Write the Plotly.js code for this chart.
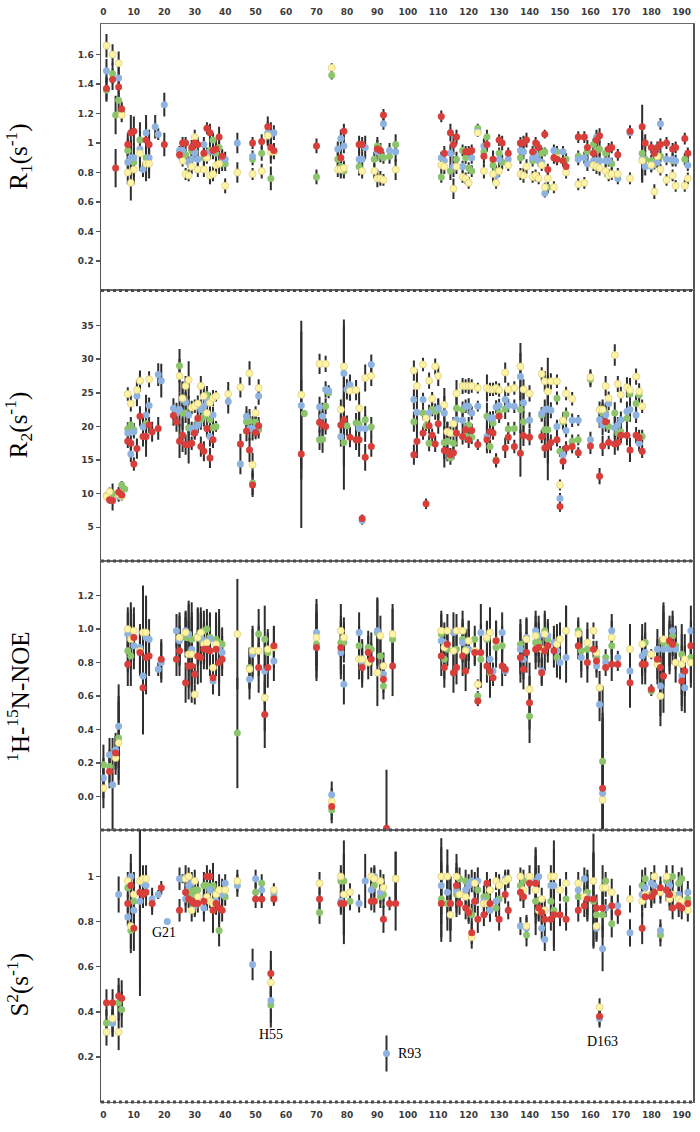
<!DOCTYPE html>
<html>
<head>
<meta charset="utf-8">
<script src="https://cdn.plot.ly/plotly-3.0.1.min.js"></script>
<style>
  body { margin: 0; background: #fff; }
  #plot { width: 700px; height: 1132px; }
</style>
</head>
<body>
<div id="plot"></div>
<script>
const _ = null;

// ---- R1 panel ----
const r1Res = [1,3,4,5,6,8,9,10,12,13,
  14,15,17,18,20,25,26,27,28,29,
  30,31,33,34,35,36,37,38,39,40,
  44,49,52,54,55,56,70,75,77,78,
  79,84,85,86,89,90,91,92,94,96,
  111,112,114,115,116,118,119,120,121,123,
  125,126,128,129,130,131,133,137,138,139,
  141,142,143,144,145,146,148,149,151,152,
  156,158,159,161,162,163,165,166,167,169,
  173,177,178,180,181,182,183,185,187,188,
  191,192];
const r1Red = [1.37,1.43,.83,1.38,1.23,.99,1.07,1.08,_,_,
  1.02,.99,_,_,.99,.92,1.00,1.00,_,.97,
  1.00,.99,.93,1.10,1.07,.95,.96,1.04,.91,_,
  _,1.00,1.01,1.11,.97,.95,.98,_,_,.90,
  1.08,.99,.99,_,_,.96,.95,1.19,_,_,
  1.18,.93,1.07,.99,1.04,_,.94,.94,.95,_,
  .91,.99,.89,_,1.02,1.00,.93,1.00,1.00,1.02,
  .94,1.00,.97,_,1.06,.82,.90,.89,.88,.84,
  1.04,1.04,.97,.93,1.02,1.05,_,.96,.97,.92,
  1.08,1.11,1.00,.97,.93,.97,.99,1.00,.96,.97,
  1.03,.93];
const r1Yellow = [1.66,1.60,_,1.54,1.19,.80,.73,.82,.93,_,
  .86,.86,_,_,_,_,.88,.79,.78,.84,
  1.04,.82,.82,.90,.78,.79,.85,.86,_,.71,
  .80,.79,.81,1.05,.94,.94,_,1.51,.82,.82,
  .83,_,.81,_,.81,.76,.76,.75,_,.82,
  .85,.84,_,.69,.84,.77,.76,.73,_,1.07,
  .81,_,.79,.73,.81,_,.85,.79,.78,.84,
  .77,.78,.76,.85,.70,.76,.70,.90,_,.80,
  .72,.73,_,.85,.84,.83,.81,.78,.79,.79,
  .76,.88,_,.85,.67,.91,.82,.75,.78,.71,
  .71,.76];
const r1Green = [1.36,1.47,1.19,1.29,1.21,.95,_,.87,1.02,_,
  .90,_,_,_,_,_,_,.92,_,.95,
  .94,_,.90,_,.95,1.02,.93,.97,.86,.86,
  _,.89,.93,1.06,.76,_,.77,1.46,.89,.84,
  .81,.84,_,_,.89,.98,.92,.90,.91,.99,
  .77,_,.81,_,.89,.95,.90,.83,.81,1.10,
  .94,1.04,.85,.81,.93,.87,_,.90,_,_,
  .88,_,_,.93,.94,.70,_,.94,_,.89,
  .91,_,.94,.99,.95,.96,.93,_,.86,_,
  _,.93,.89,.88,.87,_,.91,_,.88,_,
  .89,_];
const r1Blue = [1.49,_,_,1.44,_,.87,.90,.90,.96,.82,
  1.07,.90,1.11,1.06,1.26,.95,.95,_,.87,.89,
  .93,.89,.99,.93,_,.94,_,_,.90,.89,
  1.00,.91,_,1.07,1.06,1.07,_,_,.96,1.03,
  .98,.89,.89,.97,_,.94,_,1.13,.95,.94,
  .90,.88,.93,.84,_,.84,_,_,.90,1.08,
  .98,_,_,.78,.89,_,.89,.95,.94,_,
  .90,.91,.88,.87,.66,_,.95,_,.94,_,
  .89,.90,.86,.88,1.04,.88,.88,.88,_,.76,
  1.07,.89,.84,.84,_,.87,1.13,.89,.89,.88,
  _,.85];
const r1Err = [.08,.07,.13,.08,.05,.08,.12,.10,.12,.05,
  .12,.10,.08,.04,.08,.03,.04,.04,.04,.05,
  .05,.05,.05,.04,.06,.05,.06,.07,.05,.05,
  .07,.04,.05,.07,.08,.05,.05,.03,.05,.06,
  .05,.06,.05,.08,.05,.06,.05,.04,.05,.07,
  .04,.05,.06,.07,.05,.04,.04,.04,.04,.03,
  .05,.05,.06,.04,.04,.05,.04,.04,.05,.05,
  .04,.04,.04,.04,.03,.04,.04,.04,.04,.04,
  .04,.04,.05,.04,.05,.05,.04,.04,.04,.04,
  .04,.15,.06,.04,.05,.04,.04,.04,.04,.04,
  .04,.04];

// ---- R2 panel ----
const r2Res = [1,2,3,5,6,7,8,9,10,11,
  12,13,14,15,16,18,19,23,24,25,
  26,27,28,29,30,31,32,33,34,35,
  36,37,41,45,47,48,49,50,51,65,
  66,71,72,73,74,78,79,80,81,83,
  84,85,86,88,102,103,105,106,107,108,
  109,110,112,113,114,115,116,118,119,120,
  121,123,126,127,128,129,130,132,133,135,
  137,138,140,144,145,146,147,149,150,151,
  152,154,156,160,163,164,165,166,168,169,
  170,172,173,175,176,177];
const r2Red = [_,9.1,9.0,10.2,9.8,_,17.8,17.5,14.4,16.7,
  21.5,18.5,18.5,20.2,19.2,19.7,_,21.6,20.7,17.8,
  18.7,17.3,17.3,17.5,19.0,21.2,17.0,16.3,19.7,15.3,
  18.0,_,_,17.4,19.3,16.5,11.3,19.1,20.1,15.9,
  _,20.6,20.2,20.0,_,20.2,21.0,_,18.4,18.0,
  18.0,6.3,15.4,17.0,15.8,17.8,19.0,8.5,20.1,18.7,
  17.4,20.4,16.4,16.3,15.8,16.1,19.0,18.5,19.5,18.0,
  19.4,17.3,18.0,19.2,19.0,14.9,21.5,16.8,18.4,17.0,
  16.0,18.6,18.4,18.5,16.8,17.0,17.6,18.0,8.1,14.8,
  16.8,17.0,16.1,17.1,12.6,17.1,20.7,17.6,17.4,17.6,
  18.7,18.7,16.5,18.7,18.3,16.3];
const r2Yellow = [9.6,10.3,_,9.9,9.6,_,24.8,23.4,_,25.4,
  26.8,_,_,27.0,_,_,_,_,_,27.5,
  24.2,26.0,26.9,22.8,23.0,23.4,26.0,24.5,22.0,23.5,
  24.2,24.5,24.8,25.8,_,27.9,14.3,22.0,25.7,24.7,
  _,29.3,_,29.3,_,22.5,28.9,_,25.3,25.4,
  22.7,_,27.2,27.5,28.3,26.0,29.2,21.2,26.8,24.1,
  28.9,27.5,23.2,19.2,19.0,20.4,24.9,26.0,26.0,26.0,
  26.0,25.7,25.7,25.5,25.5,25.7,25.4,28.0,25.5,25.7,
  28.9,25.5,24.9,27.8,26.7,25.2,26.7,26.7,11.3,20.9,
  24.9,24.1,_,27.3,22.5,22.5,26.0,24.2,30.6,26.3,
  24.7,25.8,25.4,27.4,25.2,23.0];
const r2Green = [9.7,9.6,10.0,_,11.3,10.7,19.6,20.2,19.5,_,
  _,_,20.4,_,_,_,_,_,_,29.0,
  22.0,22.0,19.8,_,19.2,20.5,21.0,21.5,24.7,21.0,
  19.8,20.0,_,_,20.7,20.8,11.6,20.6,19.5,_,
  21.9,18.0,18.1,23.0,25.0,_,17.6,20.1,_,20.5,
  20.3,_,21.0,19.9,20.7,_,22.0,20.1,17.5,22.5,
  22.2,22.5,17.6,17.8,15.3,17.5,22.7,22.5,18.6,20.2,
  18.4,_,21.5,17.0,20.5,15.0,22.0,22.6,19.6,19.7,
  22.5,20.7,_,21.7,19.5,19.5,_,24.2,16.3,20.7,
  21.8,17.8,18.0,27.0,_,22.0,22.0,20.0,22.0,19.0,
  19.2,21.2,24.8,23.4,24.7,18.5];
const r2Blue = [_,_,_,9.6,_,_,19.0,15.9,19.2,24.5,
  26.7,19.9,21.7,23.1,_,27.7,26.8,22.7,22.0,22.5,
  24.0,23.6,21.7,19.7,19.7,20.2,22.5,23.0,23.8,18.5,
  21.7,_,23.7,14.4,21.5,19.7,19.7,19.5,24.5,23.1,
  _,22.9,21.5,25.5,25.3,18.5,27.9,25.5,26.2,_,
  19.7,6.0,19.7,29.2,24.0,22.1,24.0,_,22.0,_,
  _,22.7,22.0,19.2,_,_,21.0,20.9,23.0,23.0,
  22.0,23.0,18.5,21.2,21.3,22.9,23.1,24.0,23.1,23.0,
  27.4,23.5,20.9,21.9,22.5,22.6,22.4,20.0,9.3,15.8,
  19.4,20.9,20.9,18.0,21.0,20.2,21.7,23.4,19.8,20.2,
  21.0,22.2,22.5,21.7,17.5,_];
const r2Err = [.5,.6,1.5,.8,.6,.4,1.0,1.2,1.0,1.5,
  1.5,1.5,3.0,1.2,1.5,1.7,2.5,1.5,1.5,2.5,
  2.5,1.5,2.8,1.0,1.0,1.2,1.5,1.5,1.3,1.5,
  1.2,.8,1.8,1.5,1.5,1.8,1.8,1.0,1.3,11,
  .5,1.5,2.0,1.2,.8,1.5,7.0,1.5,1.5,1.5,
  2.5,.6,2.0,1.5,1.5,2.5,1.0,.8,1.2,1.0,
  1.2,1.5,2.5,1.5,1.0,1.0,2.0,1.2,1.0,1.2,
  1.0,.8,2.0,1.0,1.0,1.0,1.0,1.5,1.0,1.0,
  3.5,1.5,1.2,1.0,1.5,5.0,1.2,1.0,.8,1.2,
  1.0,1.0,.8,1.2,1.2,1.5,1.5,1.0,1.6,1.2,
  1.2,1.5,1.8,1.2,1.2,1.0];

// ---- 1H-15N NOE panel ----
const noeRes = [0,2,3,4,5,8,9,10,12,13,
  14,15,18,19,24,25,27,28,29,30,
  31,32,33,34,35,36,37,38,39,44,
  48,49,51,53,54,56,70,75,78,79,
  84,85,87,88,90,91,92,93,95,111,
  112,113,115,116,118,119,120,122,123,124,
  126,127,128,129,131,132,137,138,139,140,
  142,143,144,145,146,148,149,150,152,156,
  157,159,161,162,163,164,165,167,169,173,
  177,178,180,182,183,184,186,187,188,190,
  191,193];
const noeRed = [_,.15,_,.26,_,.79,_,.95,.86,.65,
  .83,.84,_,.82,.82,.87,.68,.78,.78,.73,
  .84,.83,.88,.88,.87,.71,.88,.80,.82,_,
  _,_,.77,.49,.77,.90,.89,-.06,.89,_,
  _,.77,.86,.82,_,_,.70,-.19,.78,.84,
  .77,.91,.74,.77,.84,.75,_,.86,.57,.86,
  .78,.75,.71,.93,.78,.76,.83,.76,.86,.56,
  .88,.89,.74,.87,.90,.87,_,_,_,.90,
  _,.80,.88,.81,_,.05,.77,.79,.79,.68,
  .79,.79,.64,.82,.77,.72,.93,.91,_,.69,
  .75,.90];
const noeYellow = [.05,_,_,.23,.32,1.00,.94,.99,.87,.98,
  .98,_,_,_,_,.95,.98,.85,.85,.61,
  .95,.98,.91,.92,_,.77,.91,_,_,.97,
  .76,.87,.87,.59,.88,.89,.95,-.03,.99,.95,
  .82,.82,.80,_,.74,.96,.78,_,.97,.99,
  .89,.99,.87,.99,.99,.87,.93,.87,.67,_,
  .95,.98,_,.93,_,_,_,_,.94,.64,
  .96,_,.88,.97,_,_,.91,.94,.99,.97,
  _,.92,.99,.86,.65,-.02,_,.95,_,.88,
  .91,_,.85,.79,.60,.94,_,_,.80,.79,
  .82,.80];
const noeGreen = [.19,.18,_,_,.35,.87,.84,_,_,_,
  _,_,_,_,_,_,.95,.95,.94,_,
  .96,.94,.99,1.00,.95,_,.94,.92,.91,.38,
  .77,_,.97,.94,.86,_,.91,-.08,.92,.92,
  .90,_,.89,.88,.98,.84,.66,_,.94,.97,
  .82,.88,_,.88,.94,.88,.93,.94,.60,.82,
  .94,.74,_,.89,.90,_,.91,_,_,.48,
  .92,.92,_,.99,.94,_,.83,_,.99,.99,
  .87,.88,_,.83,_,.21,.83,.90,_,_,
  _,.92,.63,_,_,.92,.90,.96,.90,.85,
  _,.83];
const noeBlue = [.11,.25,.07,.28,.42,.97,.98,.90,.89,.72,
  .95,.94,.76,.80,.99,.93,.99,.97,.88,_,
  _,.95,.93,.88,.94,.69,_,.88,.86,_,
  .70,.85,_,.75,_,.81,.98,.01,.86,.67,
  .98,.80,_,_,.99,_,.73,_,_,.93,
  .92,_,.98,_,.92,_,.88,_,_,.98,
  _,.82,.75,_,.98,.75,.88,.82,.95,_,
  .99,.96,.75,_,.96,.92,.87,.80,.83,_,
  .83,_,_,.78,.55,.02,.80,.99,.83,.75,
  .84,.86,_,.88,.66,.88,.88,.99,.88,.72,
  .65,.99];
const noeErr = [.12,.10,.28,.10,.25,.13,.18,.14,.14,.28,
  .22,.12,.04,.12,.10,.15,.12,.20,.22,.06,
  .17,.15,.12,.12,.15,.08,.16,.20,.10,.33,
  .12,.15,.15,.20,.12,.12,.20,.08,.16,.12,
  .12,.12,.10,.10,.20,.12,.08,.35,.18,.12,
  .12,.10,.12,.10,.12,.12,.12,.08,.03,.17,
  .10,.15,.05,.12,.12,.03,.15,.12,.12,.16,
  .12,.12,.08,.12,.10,.10,.12,.10,.15,.08,
  .12,.12,.05,.07,.10,.45,.05,.10,.04,.15,
  .12,.12,.03,.12,.18,.22,.15,.12,.12,.18,
  .15,.15];

// ---- S2 panel ----
const s2Res = [1,3,5,6,8,9,10,12,13,14,
  16,18,19,21,25,26,27,28,29,30,
  31,33,34,35,36,37,38,39,40,44,
  49,50,52,55,56,71,78,79,81,84,
  86,88,89,91,92,93,94,96,111,113,
  114,116,117,119,120,121,122,123,125,126,
  127,129,130,132,133,137,138,139,140,142,
  143,144,145,147,148,150,152,156,158,159,
  161,162,163,164,165,167,169,173,177,178,
  180,181,183,185,186,187,189,190,192];
const s2Red = [.44,.44,.47,.46,.88,.96,.77,.93,.92,.93,
  .88,_,.95,_,.85,_,.93,.90,.89,.88,
  .88,.89,1.00,1.00,.85,.88,.86,.85,_,_,
  _,.90,.90,.57,.90,.90,.88,.88,_,_,
  _,.89,.89,_,.81,_,.88,.88,.88,_,
  .88,.96,.88,.86,.84,.75,.89,.81,.83,.97,
  .88,_,.81,.92,.85,.93,.91,_,.97,.97,
  .86,.84,.81,.81,.83,.83,.81,.85,.87,.90,
  .90,.86,.38,.86,_,.87,.84,_,.77,.91,
  .91,.93,.95,.94,.92,.86,.87,.86,.88];
const s2Yellow = [.31,.37,.31,_,.98,.78,.92,.98,.99,.99,
  _,_,_,_,_,_,.99,1.00,.85,.98,
  .91,_,.91,.89,.88,.92,.94,_,.94,.98,
  _,_,_,.53,.94,.97,1.00,.92,.93,_,
  _,1.00,.99,.98,.95,_,_,.99,1.00,1.00,
  .83,1.00,.92,.91,_,.73,.97,_,.88,.88,
  .94,.98,.96,.98,.99,1.00,.94,.78,1.00,.94,
  .85,.90,.85,1.00,1.00,.94,.97,.97,.91,_,
  .98,.78,.42,.95,.95,.93,_,.90,.89,.92,
  _,1.00,.93,1.00,.90,.92,.90,.89,.85];
const s2Green = [.35,.35,.44,.41,.95,.76,.89,_,_,_,
  _,_,_,_,_,_,_,.94,.92,.94,
  .94,.96,.96,.94,.96,.93,.76,.94,.91,_,
  _,.93,.97,.43,.91,.84,.98,.98,.89,_,
  _,_,.96,.91,.92,_,_,.99,.90,.88,
  .88,.92,.99,.98,.85,.83,_,.94,.91,.91,
  .85,.86,.90,_,.99,.96,.98,.74,_,.89,
  _,.85,_,.89,.85,_,.90,.91,_,.93,
  .89,.83,_,.83,.98,.79,_,_,.96,.99,
  .92,_,.74,.98,_,1.00,.97,.99,.90];
const s2Blue = [_,.35,.92,_,.82,1.00,.85,.89,.97,.96,
  .90,.92,_,.80,.99,.99,.90,.96,.97,.87,
  _,.86,.90,.94,.89,.89,_,.92,.97,.96,
  .61,.99,.94,.45,.93,_,.89,.92,_,.88,
  .98,.94,1.00,.93,_,.215,_,_,.96,.93,
  _,.94,_,.94,.96,.98,.89,.98,.89,_,
  .85,.89,_,.99,_,.78,_,.77,_,.98,
  1.00,.77,.72,.96,.96,_,_,.94,.99,.91,
  _,.77,.37,.68,.86,_,.87,.75,.92,.95,
  .97,.96,.76,_,.96,_,.92,_,.93];
const s2Err = [.06,.06,.08,.08,.04,.10,.10,.42,.06,.06,
  .05,.02,.03,.01,.05,.02,.06,.04,.05,.05,
  .04,.06,.05,.03,.10,.05,.07,.05,.04,.05,
  .07,.04,.04,.10,.03,.05,.05,.18,.04,.04,
  .12,.04,.05,.05,.06,.08,.03,.12,.17,.12,
  .12,.10,.05,.05,.05,.05,.05,.06,.05,.05,
  .05,.04,.05,.04,.04,.04,.05,.05,.05,.15,
  .05,.05,.05,.05,.16,.05,.05,.05,.05,.10,
  .21,.06,.04,.10,.04,.06,.05,.06,.07,.05,
  .05,.05,.05,.05,.05,.05,.05,.05,.05];

// labelled residues in the S2 panel
const s2Labels = ['G21', 'H55', 'R93', 'D163'];
const s2LabelX = [20, 55, 96, 164];
const s2LabelY = [0.75, 0.30, 0.215, 0.27];

const seriesStyle = [
  { key: 'green', color: '#8cc46c', edge: 'rgba(0,0,0,0)' },
  { key: 'blue', color: '#8eb3e0', edge: 'rgba(0,0,0,0)' },
  { key: 'yellow', color: '#fff4a6', edge: '#d9cb78' },
  { key: 'red', color: '#d83f3b', edge: 'rgba(0,0,0,0)' }
];

function panelTraces(res, data, err, n) {
  const xa = n === 1 ? 'x' : 'x' + n;
  const ya = n === 1 ? 'y' : 'y' + n;
  // error bars first so every dot sits on top of them
  const bars = seriesStyle.map(s => ({
    type: 'scatter', mode: 'markers', x: res, y: data[s.key],
    xaxis: xa, yaxis: ya, showlegend: false, hoverinfo: 'skip',
    marker: { size: 1, color: 'rgba(0,0,0,0)' },
    error_y: { type: 'data', array: err, visible: true, color: '#2e2e2e', thickness: 2, width: 0 }
  }));
  const dots = seriesStyle.map(s => ({
    type: 'scatter', mode: 'markers', x: res, y: data[s.key],
    xaxis: xa, yaxis: ya, showlegend: false, name: s.key,
    marker: { size: 7, color: s.color, line: { width: 0.7, color: s.edge } }
  }));
  return bars.concat(dots);
}

const traces = [].concat(
  panelTraces(r1Res, { red: r1Red, yellow: r1Yellow, green: r1Green, blue: r1Blue }, r1Err, 1),
  panelTraces(r2Res, { red: r2Red, yellow: r2Yellow, green: r2Green, blue: r2Blue }, r2Err, 2),
  panelTraces(noeRes, { red: noeRed, yellow: noeYellow, green: noeGreen, blue: noeBlue }, noeErr, 3),
  panelTraces(s2Res, { red: s2Red, yellow: s2Yellow, green: s2Green, blue: s2Blue }, s2Err, 4)
);

const tickFont = { family: 'DejaVu Sans, Verdana, sans-serif', size: 9, color: '#3a3a3a', weight: 'bold' };
const xRange = [-0.8, 193.7];
const xTicks = [0,10,20,30,40,50,60,70,80,90,100,110,120,130,140,150,160,170,180,190];

function xAxis(anchor, side, labels) {
  return {
    anchor: anchor, side: side, range: xRange, showgrid: false, zeroline: false,
    showline: true, mirror: true, linecolor: '#6a6a6a', linewidth: 1,
    ticks: '', tickvals: xTicks, showticklabels: labels, tickfont: tickFont,
    ticklabelstandoff: 4
  };
}
function yAxis(domain, range, vals, fmt) {
  return {
    domain: domain, range: range, showgrid: false, zeroline: false,
    showline: true, mirror: true, linecolor: '#555', linewidth: 1.5,
    ticks: 'outside', ticklen: 4, tickcolor: '#555', tickwidth: 1.5,
    tickvals: vals, tickformat: fmt, tickfont: tickFont
  };
}

const titleFont = { family: 'Liberation Serif, Times New Roman, serif', size: 25, color: '#000' };
const yTitles = ['R<sub>1</sub>(s<sup>-1</sup>)', 'R<sub>2</sub>(s<sup>-1</sup>)',
  '<sup>1</sup>H-<sup>15</sup>N-NOE', 'S<sup>2</sup>(s<sup>-1</sup>)'];
const yTitlePos = [0.877, 0.628, 0.376, 0.109];

const annotations = yTitles.map((t, i) => ({
  text: t, xref: 'paper', yref: 'paper', x: -0.14, y: yTitlePos[i],
  xanchor: 'center', yanchor: 'middle', textangle: -90, showarrow: false, font: titleFont
})).concat(s2Labels.map((t, i) => ({
  text: t, xref: 'x4', yref: 'y4', x: s2LabelX[i], y: s2LabelY[i],
  xanchor: i === 2 ? 'left' : 'center', yanchor: 'middle', showarrow: false,
  font: { family: 'Liberation Serif, Times New Roman, serif', size: 14, color: '#000' }
})));

// dotted bottom edge of every panel
const shapes = ['y', 'y2', 'y3', 'y4'].map(ya => ({
  type: 'line', xref: 'paper', yref: ya + ' domain', x0: 0, x1: 1, y0: 0, y1: 0,
  line: { color: '#4a4a4a', width: 3, dash: 'dot' }
}));

const layout = {
  width: 700, height: 1132,
  margin: { l: 101, r: 7, t: 24, b: 30 },
  paper_bgcolor: '#fff', plot_bgcolor: '#fff',
  showlegend: false,
  xaxis: xAxis('y', 'top', true),
  xaxis2: xAxis('y2', 'bottom', false),
  xaxis3: xAxis('y3', 'bottom', false),
  xaxis4: xAxis('y4', 'bottom', true),
  yaxis: yAxis([0.7528, 1], [0, 1.807], [0.2,0.4,0.6,0.8,1,1.2,1.4,1.6], ''),
  yaxis2: yAxis([0.5019, 0.7528], [0, 40.2], [5,10,15,20,25,30,35], ''),
  yaxis3: yAxis([0.2523, 0.5019], [-0.2, 1.407], [0,0.2,0.4,0.6,0.8,1.0,1.2], '.1f'),
  yaxis4: yAxis([0, 0.2523], [0, 1.206], [0.2,0.4,0.6,0.8,1], ''),
  annotations: annotations,
  shapes: shapes
};

Plotly.newPlot('plot', traces, layout, { staticPlot: true });
</script>
</body>
</html>
